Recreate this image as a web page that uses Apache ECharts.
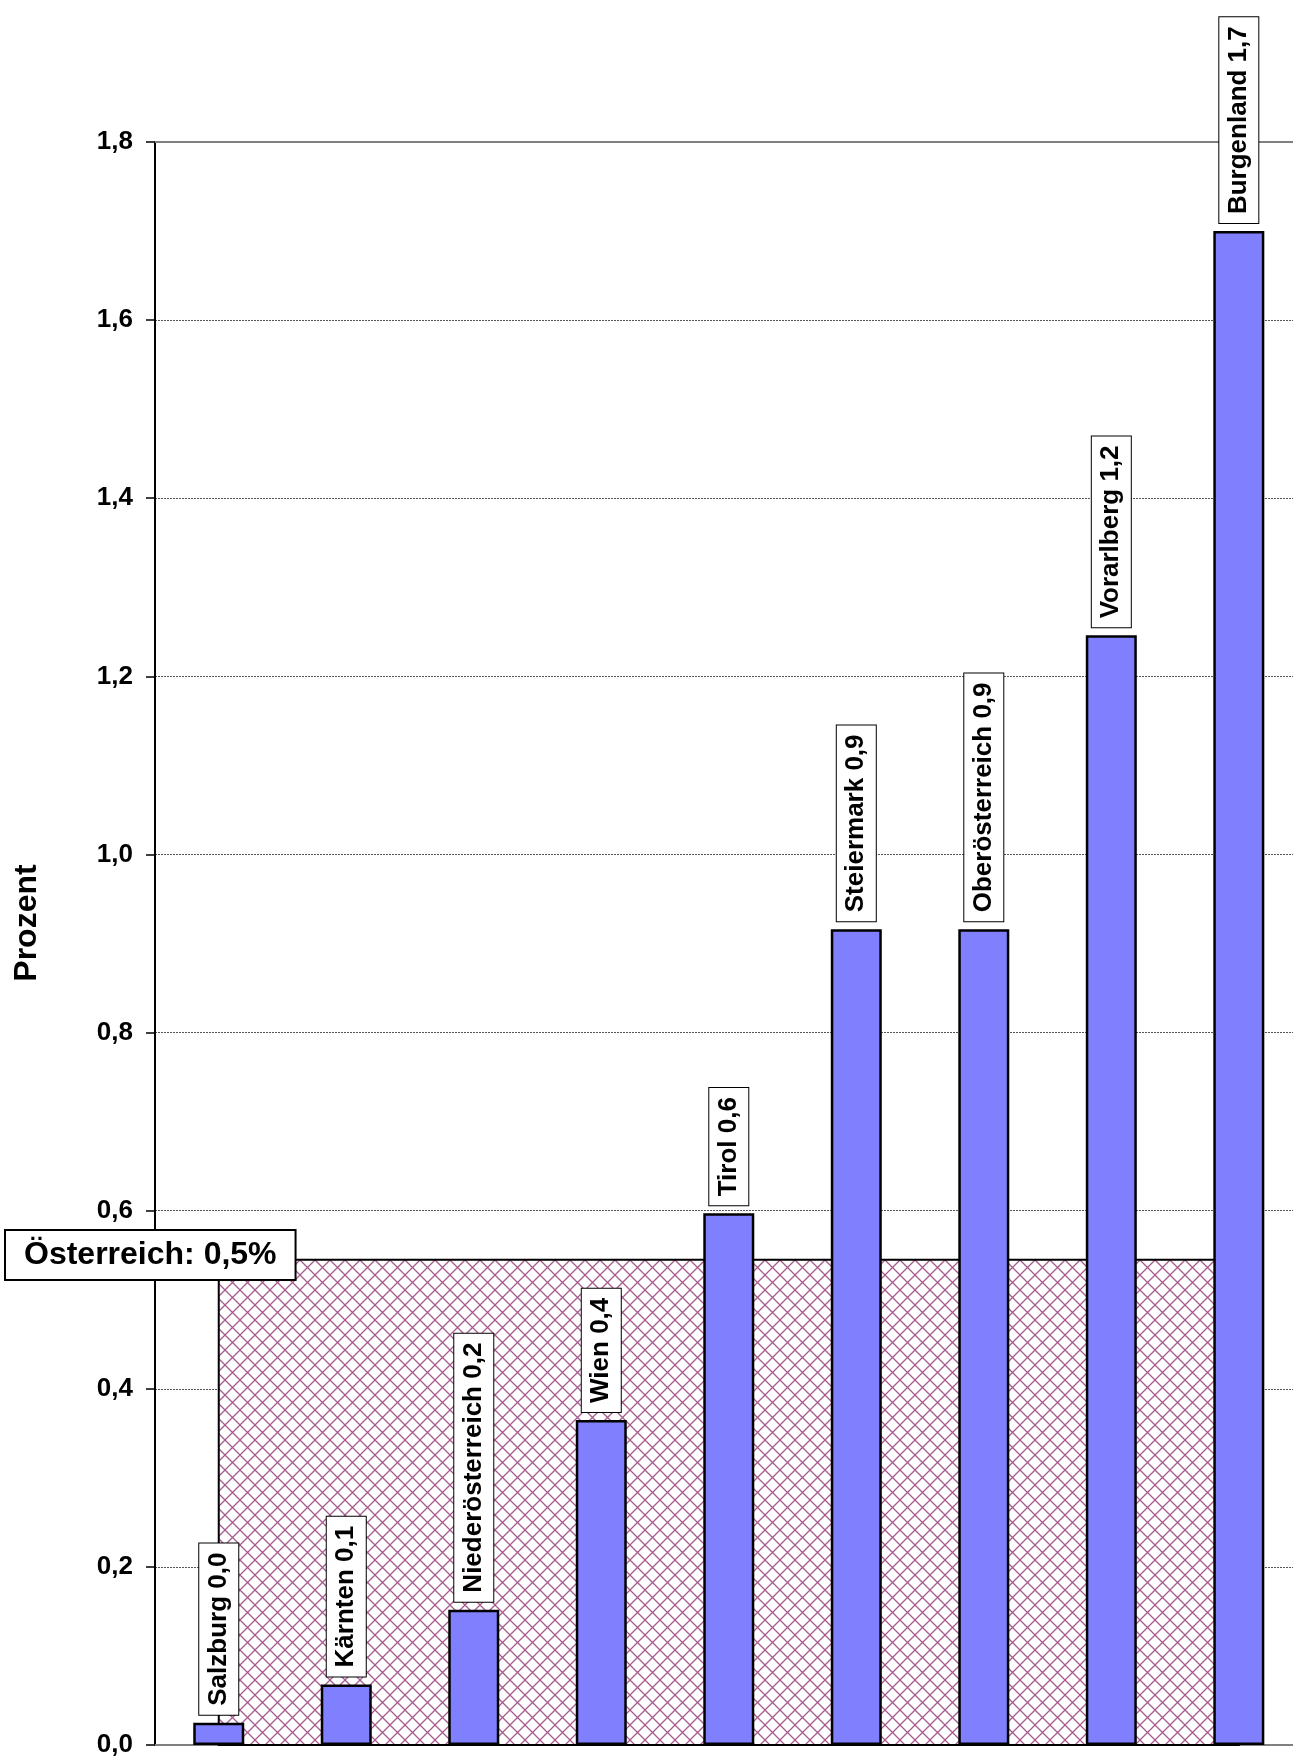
<!DOCTYPE html>
<html>
<head>
<meta charset="utf-8">
<script src="https://cdn.jsdelivr.net/npm/echarts@6/dist/echarts.min.js"></script>
<style>
html,body{margin:0;padding:0;background:#fff;}
#chart{width:1293px;height:1758px;}
</style>
</head>
<body>
<div id="chart"></div>
<script>
// ---- data ----
var regions = ["Salzburg","Kärnten","Niederösterreich","Wien","Tirol","Steiermark","Oberösterreich","Vorarlberg","Burgenland"];
var values = [0.025, 0.068, 0.152, 0.365, 0.597, 0.916, 0.916, 1.246, 1.700];
var austriaAvg = 0.545;
var austriaLabel = "Österreich: 0,5%";
var yTicks = [0.0, 0.2, 0.4, 0.6, 0.8, 1.0, 1.2, 1.4, 1.6, 1.8];

var FONT = "'Liberation Sans', Arial, sans-serif";
function fmt(v){ return v.toFixed(1).replace('.', ','); }

// x range: category slots of equal width, the last one cut by the picture's right edge
var xMin = -0.5, xMax = 8.425;

// hatch pattern
var tile = document.createElement('canvas');
tile.width = 15; tile.height = 15;
var c = tile.getContext('2d');
c.fillStyle = '#ffffff'; c.fillRect(0,0,15,15);
c.strokeStyle = '#a65a8e'; c.lineWidth = 1.3;
c.beginPath();
c.moveTo(-1,-1); c.lineTo(16,16);
c.moveTo(16,-1); c.lineTo(-1,16);
c.stroke();
var pattern = {image: tile, repeat: 'repeat'};

var barData = regions.map(function(n, i){ return {name: n, value: [i, values[i]]}; });

var chart = echarts.init(document.getElementById('chart'), null, {renderer:'canvas'});
var option = {
  animation: false,
  backgroundColor: '#ffffff',
  grid: {left: 155, top: 142, right: 0, height: 1606},
  xAxis: [{
    type: 'value', min: xMin, max: xMax, position: 'bottom',
    axisLine: {show: true, onZero: false, lineStyle: {color: '#808080', width: 2}},
    axisTick: {show: false}, axisLabel: {show: false}, splitLine: {show: false}
  },{
    type: 'value', min: xMin, max: xMax, position: 'top',
    axisLine: {show: true, onZero: false, lineStyle: {color: '#808080', width: 2}},
    axisTick: {show: false}, axisLabel: {show: false}, splitLine: {show: false}
  }],
  yAxis: {
    type: 'value', min: yTicks[0], max: yTicks[yTicks.length-1], interval: 0.2,
    axisLine: {show: true, onZero: false, lineStyle: {color: '#000', width: 2}},
    axisTick: {show: true, length: 9, lineStyle: {color: '#000', width: 1.5}},
    axisLabel: {margin: 22, fontFamily: FONT, fontSize: 26, fontWeight: 'bold', color: '#000', formatter: fmt},
    splitLine: {show: true, lineStyle: {color: '#555', width: 1, type: [2, 1]}}
  },
  series: [{
    type: 'custom',
    z: 1,
    data: [[0, regions.length - 1, austriaAvg]],
    encode: {x: [0, 1], y: 2},
    renderItem: function(params, api){
      var p0 = api.coord([api.value(0), api.value(2)]);
      var p1 = api.coord([api.value(1), 0]);
      return {
        type: 'rect',
        shape: {x: p0[0], y: p0[1], width: p1[0] - p0[0], height: p1[1] - p0[1]},
        style: {fill: pattern, stroke: '#000', lineWidth: 2}
      };
    }
  },{
    type: 'bar',
    z: 3,
    data: barData,
    barWidth: 51,
    itemStyle: {color: '#8080ff', borderColor: '#000', borderWidth: 2.5},
    label: {
      show: true, position: 'top', distance: 8, rotate: 90,
      align: 'left', verticalAlign: 'middle',
      fontFamily: FONT, fontSize: 26, fontWeight: 'bold', color: '#000',
      lineHeight: 27,
      backgroundColor: '#fff', borderColor: '#000', borderWidth: 1,
      padding: [6, 9, 6, 9],
      formatter: function(p){ return p.name + ' ' + fmt(p.value[1]); }
    }
  }],
  graphic: [{
    type: 'text', z: 100, x: 6, y: 1231,
    style: {
      text: austriaLabel, fontFamily: FONT, fontSize: 32, fontWeight: 'bold', fill: '#000',
      backgroundColor: '#fff', borderColor: '#000', borderWidth: 2,
      padding: [8, 18, 8, 18], lineHeight: 32
    }
  },{
    type: 'text', z: 100, x: 27.5, y: 923, rotation: Math.PI/2,
    style: {
      text: 'Prozent', fontFamily: FONT, fontSize: 32, fontWeight: 'bold', fill: '#000',
      align: 'center', verticalAlign: 'middle'
    }
  }]
};
chart.setOption(option);
</script>
</body>
</html>
